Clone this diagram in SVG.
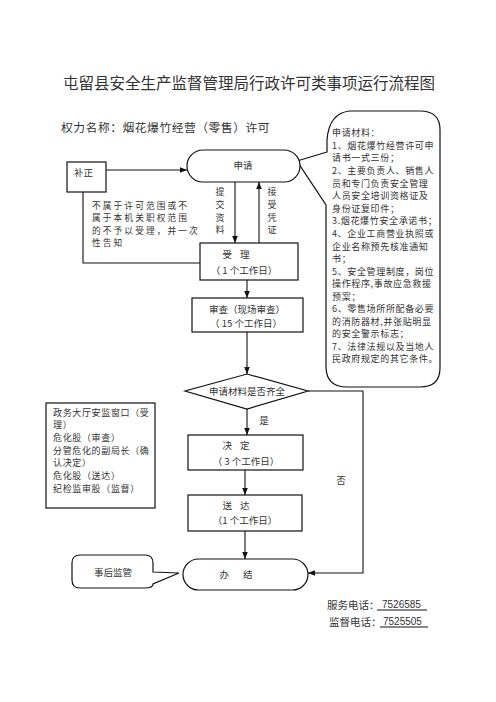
<svg xmlns="http://www.w3.org/2000/svg" width="496" height="702" viewBox="0 0 496 702">
<defs>
<style>
text{font-family:"Noto Sans CJK SC","Noto Sans",sans-serif;fill:#333;}
.box{fill:#fff;stroke:#111;stroke-width:1.2;}
.ln{fill:none;stroke:#111;stroke-width:1.1;}
.t{font-size:9.5px;text-anchor:middle;}
.v{font-size:9px;text-anchor:middle;}
.s{font-size:9px;letter-spacing:0.65px;}
.n{font-size:8.7px;letter-spacing:2.1px;}
.u{stroke:#111;stroke-width:1;}
</style>
<marker id="ah" viewBox="0 0 10 10" refX="10" refY="5" markerWidth="7" markerHeight="7" markerUnits="userSpaceOnUse" orient="auto"><path d="M0,1 L10,5 L0,9 Z" fill="#111"/></marker>
</defs>
<rect width="496" height="702" fill="#fff"/>

<text x="249" y="89" style="font-size:15.5px;text-anchor:middle;">屯留县安全生产监督管理局行政许可类事项运行流程图</text>
<text x="61" y="132" style="font-size:11.8px;letter-spacing:0.5px;">权力名称：烟花爆竹经营（零售）许可</text>

<g id="materials">
<path class="box" d="M327,152 L297,161 L326,205 L326,368 Q327,387 347,387 L420,387 Q440,387 440,368 L440,130 Q440,111 420,111 L350,111 Q329,113 327,140 Z"/>
<text class="s" x="332" y="136">申请材料：</text>
<text class="s" x="332" y="149">1、烟花爆竹经营许可申</text>
<text class="s" x="332" y="161">请书一式三份；</text>
<text class="s" x="332" y="174">2、主要负责人、销售人</text>
<text class="s" x="332" y="187">员和专门负责安全管理</text>
<text class="s" x="332" y="199">人员安全培训资格证及</text>
<text class="s" x="332" y="212">身份证复印件；</text>
<text class="s" x="332" y="224">3.烟花爆竹安全承诺书；</text>
<text class="s" x="332" y="237">4、企业工商营业执照或</text>
<text class="s" x="332" y="250">企业名称预先核准通知</text>
<text class="s" x="332" y="262">书；</text>
<text class="s" x="332" y="275">5、安全管理制度，岗位</text>
<text class="s" x="332" y="287">操作程序,事故应急救援</text>
<text class="s" x="332" y="300">预案；</text>
<text class="s" x="332" y="312">6、零售场所所配备必要</text>
<text class="s" x="332" y="325">的消防器材,并张贴明显</text>
<text class="s" x="332" y="337">的安全警示标志；</text>
<text class="s" x="332" y="350">7、法律法规以及当地人</text>
<text class="s" x="332" y="362">民政府规定的其它条件。</text>
</g>

<g id="apply">
<rect class="box" x="187" y="150" width="113" height="32" rx="16"/>
<text class="t" x="243" y="169">申请</text>
</g>

<g id="correct">
<rect class="box" x="67" y="162" width="39" height="30"/>
<text x="74" y="176" style="font-size:9.5px;">补正</text>
</g>

<g id="reject-note">
<text class="n" x="92" y="209">不属于许可范围或不</text>
<text class="n" x="92" y="221.4">属于本机关职权范围</text>
<text class="n" x="92" y="233.8">的不予以受理，并一次</text>
<text class="n" x="92" y="246.2">性告知</text>
</g>

<g id="submit-label">
<text class="v" x="220" y="195">提</text>
<text class="v" x="220" y="207.8">交</text>
<text class="v" x="220" y="220.6">资</text>
<text class="v" x="220" y="233.4">料</text>
</g>
<g id="receipt-label">
<text class="v" x="272" y="195">接</text>
<text class="v" x="272" y="207.8">受</text>
<text class="v" x="272" y="220.6">凭</text>
<text class="v" x="272" y="233.4">证</text>
</g>

<g id="accept">
<rect class="box" x="200" y="243" width="98" height="37"/>
<text class="t" x="240" y="258" style="letter-spacing:8px;">受理</text>
<text class="t" x="244" y="274">（ 1 个工作日）</text>
</g>

<g id="review">
<rect class="box" x="192" y="298" width="111" height="34"/>
<text class="t" x="247" y="313">审查（现场审查）</text>
<text class="t" x="246" y="326.5">（ 15 个工作日）</text>
</g>

<g id="check">
<path class="box" d="M247,374 L308,391 L247,409 L185,391 Z"/>
<text class="t" x="247" y="395">申请材料是否齐全</text>
</g>

<g id="decide">
<rect class="box" x="188" y="435" width="115" height="35"/>
<text class="t" x="240" y="449" style="letter-spacing:8px;">决定</text>
<text class="t" x="246" y="465">（ 3 个工作日）</text>
</g>

<g id="deliver">
<rect class="box" x="188" y="495" width="114" height="36"/>
<text class="t" x="240" y="509" style="letter-spacing:8px;">送达</text>
<text class="t" x="245" y="524">（1 个工作日）</text>
</g>

<g id="finish">
<rect class="box" x="183" y="559" width="125" height="31" rx="15.5"/>
<text class="t" x="243" y="578" style="letter-spacing:14px;">办结</text>
</g>

<g id="supervise">
<path class="box" d="M80,555 L145,555 Q153,555 153,563 L153,572 L179,573 L153,584 Q153,588 145,588 L80,588 Q72,588 72,580 L72,563 Q72,555 80,555 Z"/>
<text class="t" x="113" y="576">事后监管</text>
</g>

<g id="departments">
<rect class="box" x="46" y="403" width="109" height="105"/>
<text class="s" x="53" y="416">政务大厅安监窗口（受</text>
<text class="s" x="53" y="428">理）</text>
<text class="s" x="53" y="441">危化股（审查）</text>
<text class="s" x="53" y="454">分管危化的副局长（确</text>
<text class="s" x="53" y="466">认决定）</text>
<text class="s" x="53" y="479">危化股（送达）</text>
<text class="s" x="53" y="492">纪检监审股（监督）</text>
</g>

<g id="connectors">
<path class="ln" d="M106,170 L187,170" marker-end="url(#ah)"/>
<path class="ln" d="M235,182 L235,243" marker-end="url(#ah)"/>
<path class="ln" d="M259,243 L259,182" marker-end="url(#ah)"/>
<path class="ln" d="M83,192 L83,263 L200,263"/>
<path class="ln" d="M247,280 L247,298" marker-end="url(#ah)"/>
<path class="ln" d="M247,332 L247,374" marker-end="url(#ah)"/>
<path class="ln" d="M247,409 L247,435" marker-end="url(#ah)"/>
<path class="ln" d="M245,470 L245,495" marker-end="url(#ah)"/>
<path class="ln" d="M245,531 L245,559" marker-end="url(#ah)"/>
<path class="ln" d="M308,391 L363,391 L363,573 L308,573" marker-end="url(#ah)"/>
<text class="t" x="264" y="424">是</text>
<text class="t" x="341" y="484">否</text>
</g>

<g id="phones">
<text x="327" y="609" style="font-size:10.5px;">服务电话：</text>
<text x="382" y="608" style="font-family:'Liberation Sans',sans-serif;font-size:10px;">7526585</text>
<line class="u" x1="377" y1="610" x2="427" y2="610"/>
<text x="329" y="626" style="font-size:10.5px;">监督电话：</text>
<text x="383" y="625" style="font-family:'Liberation Sans',sans-serif;font-size:10px;">7525505</text>
<line class="u" x1="380" y1="627" x2="428" y2="627"/>
</g>
</svg>
